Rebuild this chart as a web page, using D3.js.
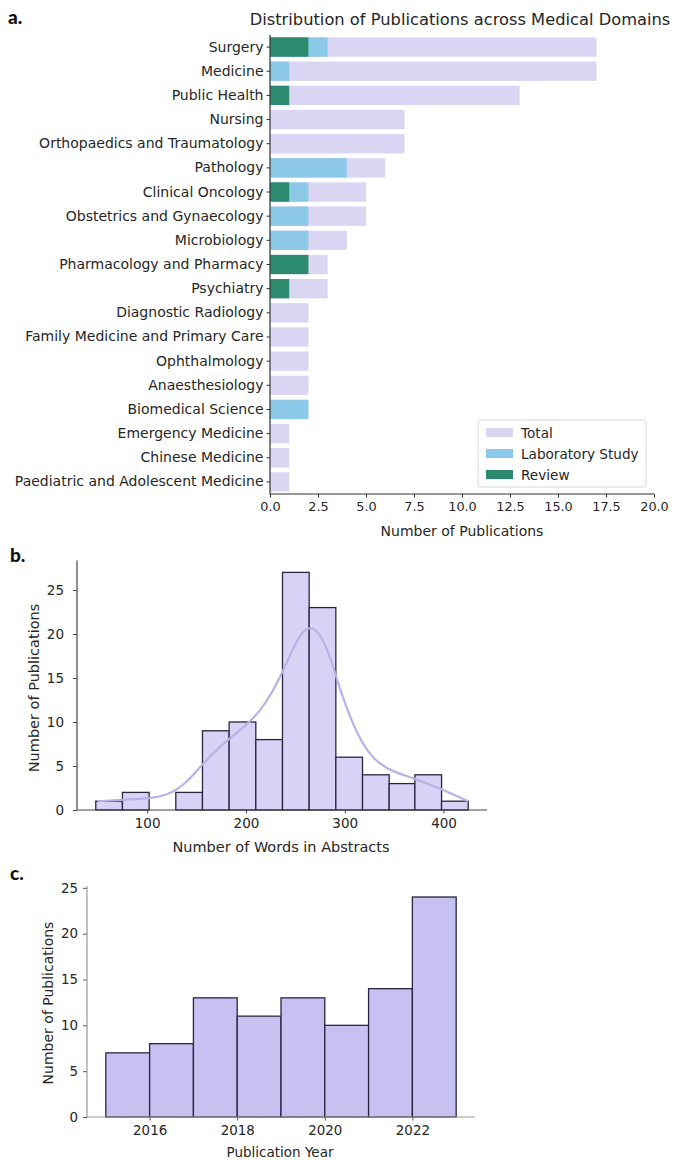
<!DOCTYPE html>
<html>
<head>
<meta charset="utf-8">
<script src="https://cdn.jsdelivr.net/npm/d3@7"></script>
<style>
  body { margin: 0; background: #fff; }
  text { font-family: "DejaVu Sans", sans-serif; fill: #262626; }
  .panel { font-family: Lato, "DejaVu Sans", sans-serif; font-weight: 900; fill: #111; }
</style>
</head>
<body>
<div id="chart"></div>
<script>
// panel a: publications per medical domain
var domains = ["Surgery", "Medicine", "Public Health", "Nursing", "Orthopaedics and Traumatology",
    "Pathology", "Clinical Oncology", "Obstetrics and Gynaecology", "Microbiology",
    "Pharmacology and Pharmacy", "Psychiatry", "Diagnostic Radiology",
    "Family Medicine and Primary Care", "Ophthalmology", "Anaesthesiology",
    "Biomedical Science", "Emergency Medicine", "Chinese Medicine",
    "Paediatric and Adolescent Medicine"];
var totalCounts = [17, 17, 13, 7, 7, 6, 5, 5, 4, 3, 3, 2, 2, 2, 2, 2, 1, 1, 1];
var labCounts   = [3, 1, 0, 0, 0, 4, 2, 2, 2, 0, 0, 0, 0, 0, 0, 2, 0, 0, 0];
var reviewCounts = [2, 0, 1, 0, 0, 0, 1, 0, 0, 2, 1, 0, 0, 0, 0, 0, 0, 0, 0];
var xTicksA = [0, 2.5, 5, 7.5, 10, 12.5, 15, 17.5, 20];

// panel b: words in abstracts histogram
var wordBinEdges = [48, 75, 102, 129, 156, 183, 210, 237, 264, 291, 318, 345, 371, 398, 425];
var wordCounts = [1, 2, 0, 2, 9, 10, 8, 27, 23, 6, 4, 3, 4, 1];
var kdeWords = [50, 75, 100, 120, 140, 160, 185, 200, 215, 228, 240, 252, 263, 275, 285, 295, 305, 320, 335, 350, 370, 395, 425];
var kdeDensity = [1.0, 1.15, 1.3, 1.6, 3.0, 5.8, 8.3, 9.6, 11.3, 13.6, 16.4, 19.5, 21.0, 20.2, 17.5, 13.8, 10.6, 7.0, 5.2, 4.3, 3.6, 2.5, 1.0];
var xTicksB = [100, 200, 300, 400];
var yTicksB = [0, 5, 10, 15, 20, 25];

// panel c: publication year histogram
var yearEdges = [2015, 2016, 2017, 2018, 2019, 2020, 2021, 2022, 2023];
var yearCounts = [7, 8, 13, 11, 13, 10, 14, 24];
var xTicksC = [2016, 2018, 2020, 2022];
var yTicksC = [0, 5, 10, 15, 20, 25];

var W = 674, H = 1160;
var svg = d3.select("#chart").append("svg")
    .attr("width", W)
    .attr("height", H);
svg.append("rect").attr("width", W).attr("height", H).attr("fill", "#fff");

function spines(g, x0, x1, y0, y1, color) {
    g.append("line").attr("x1", x0).attr("x2", x0).attr("y1", y0).attr("y2", y1)
        .attr("stroke", color).attr("stroke-width", 1.2);
    g.append("line").attr("x1", x0).attr("x2", x1).attr("y1", y1).attr("y2", y1)
        .attr("stroke", color).attr("stroke-width", 1.2);
}

function styleAxis(a, tickColor, size) {
    a.select(".domain").remove();
    a.selectAll("line").attr("stroke", tickColor);
    a.selectAll("text").style("font-size", size).attr("fill", "#2a2a2a")
        .style("font-family", "'DejaVu Sans', sans-serif");
}

// ---------- panel a ----------
var ga = svg.append("g");
var xa = d3.scaleLinear().domain([0, 20]).range([270, 654]);
var ya = d3.scaleBand().domain(domains).range([35, 494]).paddingInner(0.2).paddingOuter(0.1);

ga.append("text").attr("class", "panel").attr("x", 8).attr("y", 24)
    .style("font-size", "19px").text("a.");
ga.append("text").attr("x", 460).attr("y", 25).attr("text-anchor", "middle")
    .style("font-size", "16.3px").text("Distribution of Publications across Medical Domains");

function barsA(values, color) {
    ga.selectAll(null)
        .data(domains.map(function (d, i) { return {name: d, v: values[i]}; })
            .filter(function (d) { return d.v > 0; }))
        .enter().append("rect")
        .attr("x", xa(0))
        .attr("y", function (d) { return ya(d.name); })
        .attr("width", function (d) { return xa(d.v) - xa(0); })
        .attr("height", ya.bandwidth())
        .attr("fill", color);
}
barsA(totalCounts, "#dad5f3");
barsA(labCounts, "#8cc8e8");
barsA(reviewCounts, "#2c8a6e");

var axA = ga.append("g").attr("transform", "translate(0,494)")
    .call(d3.axisBottom(xa).tickValues(xTicksA).tickFormat(d3.format(".1f")).tickSize(3.5).tickPadding(4));
var ayA = ga.append("g").attr("transform", "translate(270,0)")
    .call(d3.axisLeft(ya).tickSize(3.5).tickPadding(3));
styleAxis(axA, "#333", "12.8px");
styleAxis(ayA, "#333", "14px");
spines(ga, 270, 654, 35, 494, "#333");
ga.append("text").attr("x", 462).attr("y", 536).attr("text-anchor", "middle")
    .style("font-size", "14px").text("Number of Publications");

// legend
var leg = ga.append("g").attr("transform", "translate(478,420)");
leg.append("rect").attr("width", 168).attr("height", 67).attr("rx", 3)
    .attr("fill", "#fff").attr("fill-opacity", 0.85).attr("stroke", "#d8d8d8");
[["Total", "#dad5f3"], ["Laboratory Study", "#8cc8e8"], ["Review", "#2c8a6e"]].forEach(function (e, i) {
    leg.append("rect").attr("x", 8).attr("y", 8 + i * 21).attr("width", 27).attr("height", 9).attr("fill", e[1]);
    leg.append("text").attr("x", 43).attr("y", 18 + i * 21).style("font-size", "13.6px").text(e[0]);
});

// ---------- panel b ----------
var gb = svg.append("g");
var xb = d3.scaleLinear().domain([29, 444]).range([77, 487]);
var yb = d3.scaleLinear().domain([0, 28.35]).range([810, 560.5]);

gb.append("text").attr("class", "panel").attr("x", 10).attr("y", 562)
    .style("font-size", "19px").text("b.");

gb.selectAll(null).data(wordCounts).enter().append("rect")
    .attr("x", function (d, i) { return xb(wordBinEdges[i]); })
    .attr("y", function (d) { return yb(d); })
    .attr("width", function (d, i) { return xb(wordBinEdges[i + 1]) - xb(wordBinEdges[i]); })
    .attr("height", function (d) { return yb(0) - yb(d); })
    .attr("fill", "#d7d3f7")
    .attr("stroke", function (d) { return d > 0 ? "#2a2540" : "none"; })
    .attr("stroke-width", 1.3);

gb.append("path")
    .datum(kdeWords.map(function (w, i) { return [w, kdeDensity[i]]; }))
    .attr("d", d3.line().x(function (d) { return xb(d[0]); }).y(function (d) { return yb(d[1]); })
        .curve(d3.curveBasis))
    .attr("fill", "none").attr("stroke", "#b9b1e6").attr("stroke-width", 2.2);

var axB = gb.append("g").attr("transform", "translate(0,810)")
    .call(d3.axisBottom(xb).tickValues(xTicksB).tickSize(3.5).tickPadding(5));
var ayB = gb.append("g").attr("transform", "translate(77,0)")
    .call(d3.axisLeft(yb).tickValues(yTicksB).tickSize(4).tickPadding(9));
styleAxis(axB, "#444", "13.5px");
styleAxis(ayB, "#444", "13.5px");
spines(gb, 77, 487, 560.5, 810, "#444");
gb.append("text").attr("x", 281).attr("y", 852).attr("text-anchor", "middle")
    .style("font-size", "14.5px").text("Number of Words in Abstracts");
gb.append("text").attr("transform", "translate(39,688) rotate(-90)").attr("text-anchor", "middle")
    .style("font-size", "14.5px").text("Number of Publications");

// ---------- panel c ----------
var gc = svg.append("g");
var xc = d3.scaleLinear().domain([2014.57, 2023.43]).range([87, 475]);
var yc = d3.scaleLinear().domain([0, 25.2]).range([1117, 886]);

gc.append("text").attr("class", "panel").attr("x", 10).attr("y", 880)
    .style("font-size", "19px").text("c.");

gc.selectAll(null).data(yearCounts).enter().append("rect")
    .attr("x", function (d, i) { return xc(yearEdges[i]); })
    .attr("y", function (d) { return yc(d); })
    .attr("width", function (d, i) { return xc(yearEdges[i + 1]) - xc(yearEdges[i]); })
    .attr("height", function (d) { return yc(0) - yc(d); })
    .attr("fill", "#c7c1f2")
    .attr("stroke", "#2a2540")
    .attr("stroke-width", 1.3);

var axC = gc.append("g").attr("transform", "translate(0,1117)")
    .call(d3.axisBottom(xc).tickValues(xTicksC).tickFormat(d3.format("d")).tickSize(3.5).tickPadding(5));
var ayC = gc.append("g").attr("transform", "translate(87,0)")
    .call(d3.axisLeft(yc).tickValues(yTicksC).tickSize(4).tickPadding(5));
styleAxis(axC, "#555", "13.4px");
styleAxis(ayC, "#555", "13.4px");
spines(gc, 87, 475, 886, 1117, "#999");
gc.append("text").attr("x", 280).attr("y", 1157).attr("text-anchor", "middle")
    .style("font-size", "13.5px").text("Publication Year");
gc.append("text").attr("transform", "translate(53,1003) rotate(-90)").attr("text-anchor", "middle")
    .style("font-size", "14px").text("Number of Publications");
</script>
</body>
</html>
